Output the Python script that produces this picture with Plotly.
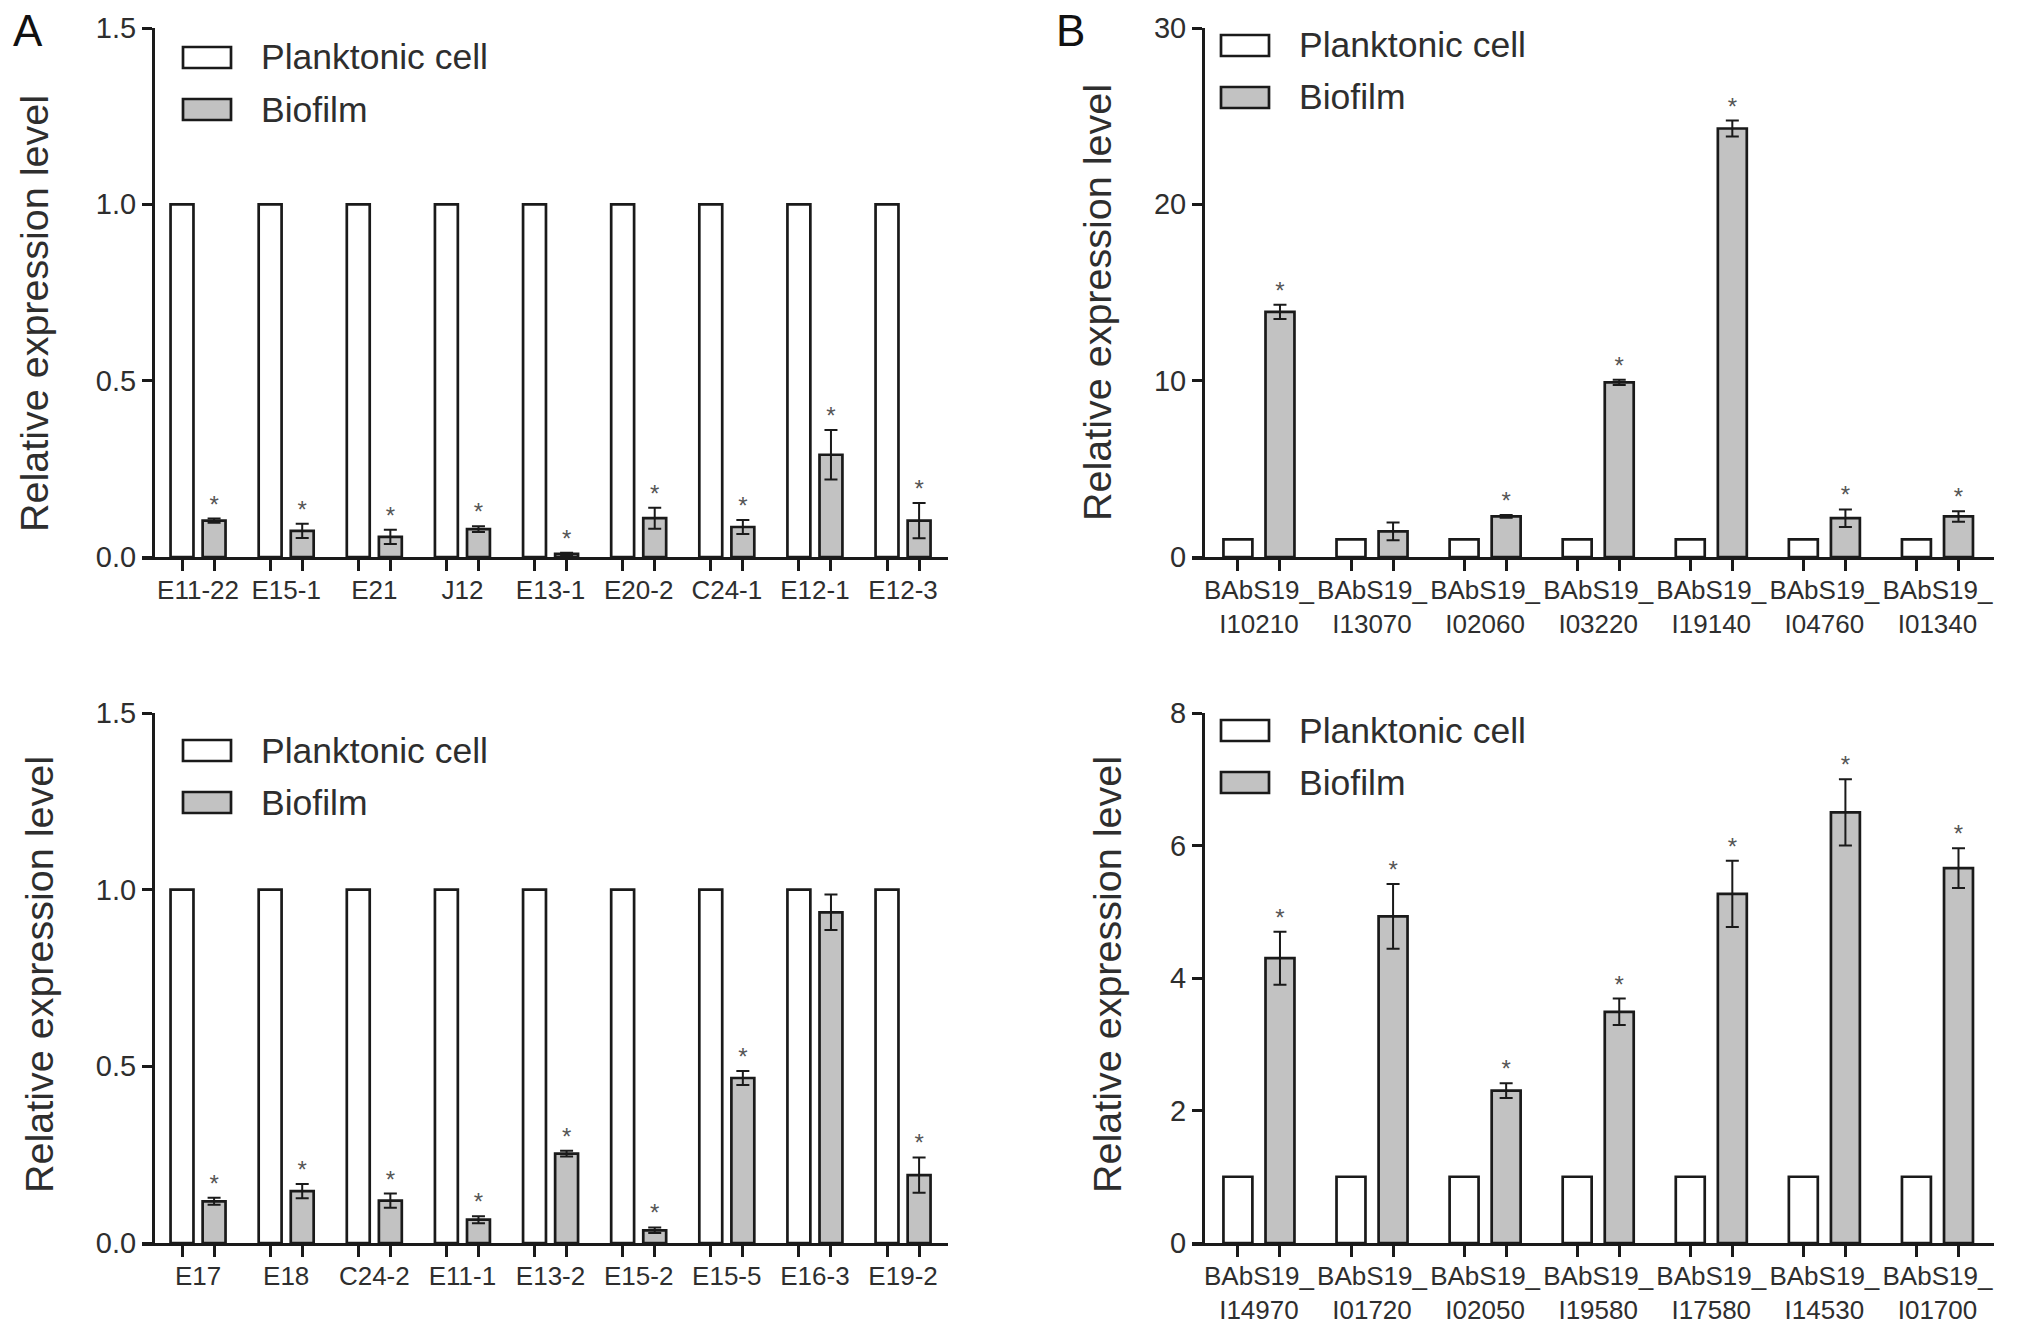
import numpy as np
import plotly.graph_objects as go

W, H = 2031, 1335
INK = "#1a1a1a"
GREY = "#c2c2c2"
TXT = "#2e2e2e"
FONT = "Arial, Liberation Sans, sans-serif"

# A, upper chart
a1_genes = ["E11-22", "E15-1", "E21", "J12", "E13-1", "E20-2", "C24-1", "E12-1", "E12-3"]
a1_planktonic = [1.0, 1.0, 1.0, 1.0, 1.0, 1.0, 1.0, 1.0, 1.0]
a1_biofilm = [0.103, 0.074, 0.057, 0.079, 0.009, 0.110, 0.085, 0.290, 0.103]
a1_err = [0.006, 0.020, 0.020, 0.008, 0.003, 0.030, 0.020, 0.070, 0.050]
a1_star = [1, 1, 1, 1, 1, 1, 1, 1, 1]

# A, lower chart
a2_genes = ["E17", "E18", "C24-2", "E11-1", "E13-2", "E15-2", "E15-5", "E16-3", "E19-2"]
a2_planktonic = [1.0, 1.0, 1.0, 1.0, 1.0, 1.0, 1.0, 1.0, 1.0]
a2_biofilm = [0.118, 0.147, 0.120, 0.066, 0.253, 0.036, 0.467, 0.936, 0.192]
a2_err = [0.010, 0.020, 0.020, 0.010, 0.008, 0.008, 0.020, 0.050, 0.050]
a2_star = [1, 1, 1, 1, 1, 1, 1, 0, 1]

# B, upper chart
b1_genes = ["BAbS19_I10210", "BAbS19_I13070", "BAbS19_I02060", "BAbS19_I03220",
            "BAbS19_I19140", "BAbS19_I04760", "BAbS19_I01340"]
b1_planktonic = [1.0, 1.0, 1.0, 1.0, 1.0, 1.0, 1.0]
b1_biofilm = [13.9, 1.45, 2.3, 9.9, 24.3, 2.2, 2.3]
b1_err = [0.40, 0.50, 0.08, 0.15, 0.45, 0.50, 0.30]
b1_star = [1, 0, 1, 1, 1, 1, 1]

# B, lower chart
b2_genes = ["BAbS19_I14970", "BAbS19_I01720", "BAbS19_I02050", "BAbS19_I19580",
            "BAbS19_I17580", "BAbS19_I14530", "BAbS19_I01700"]
b2_planktonic = [1.0, 1.0, 1.0, 1.0, 1.0, 1.0, 1.0]
b2_biofilm = [4.30, 4.93, 2.30, 3.49, 5.27, 6.50, 5.66]
b2_err = [0.40, 0.49, 0.11, 0.20, 0.50, 0.50, 0.30]
b2_star = [1, 1, 1, 1, 1, 1, 1]

a_yticks = [0, 0.5, 1.0, 1.5]
b1_yticks = [0, 10, 20, 30]
b2_yticks = [0, 2, 4, 6, 8]


def px(x):
    return x / W


def py(y):
    return 1 - y / H


def split_label(g):
    head, tail = g.split("_")
    return head + "_<br>" + tail


# layout of each chart in pixels of the 2031x1335 page
panels = [
    dict(n="", pl=a1_planktonic, bio=a1_biofilm, err=a1_err, star=a1_star, lab=a1_genes,
         yt=a_yticks, fmt=".1f", yax=153, xd=(142, 948), yd=(28, 557), xr=[-0.636, 8.51],
         half=0.182, w=0.26, leg=(183, 47), title=(34, 314)),
    dict(n="2", pl=a2_planktonic, bio=a2_biofilm, err=a2_err, star=a2_star, lab=a2_genes,
         yt=a_yticks, fmt=".1f", yax=153, xd=(142, 948), yd=(713, 1243), xr=[-0.636, 8.51],
         half=0.182, w=0.26, leg=(183, 740), title=(39, 975)),
    dict(n="3", pl=b1_planktonic, bio=b1_biofilm, err=b1_err, star=b1_star,
         lab=[split_label(g) for g in b1_genes],
         yt=b1_yticks, fmt="d", yax=1203, xd=(1192, 1994), yd=(28, 557), xr=[-0.592, 6.5],
         half=0.186, w=0.256, leg=(1221, 35), title=(1097, 303)),
    dict(n="4", pl=b2_planktonic, bio=b2_biofilm, err=b2_err, star=b2_star,
         lab=[split_label(g) for g in b2_genes],
         yt=b2_yticks, fmt="d", yax=1203, xd=(1192, 1994), yd=(713, 1243), xr=[-0.592, 6.5],
         half=0.186, w=0.256, leg=(1221, 720), title=(1107, 975)),
]

fig = go.Figure()
shapes = []
annotations = []

for p in panels:
    xi = np.arange(len(p["lab"]))
    xa, ya = "x" + p["n"], "y" + p["n"]
    fig.add_bar(x=xi, y=p["pl"], width=p["w"], offset=-p["half"] - p["w"] / 2,
                marker=dict(color="white", line=dict(color=INK, width=2.7)),
                name="Planktonic cell", showlegend=False, xaxis=xa, yaxis=ya)
    fig.add_bar(x=xi, y=p["bio"], width=p["w"], offset=p["half"] - p["w"] / 2,
                marker=dict(color=GREY, line=dict(color=INK, width=2.7)),
                error_y=dict(type="data", array=p["err"], color=INK, thickness=2, width=6.5),
                name="Biofilm", showlegend=False, xaxis=xa, yaxis=ya)
    s = np.array(p["star"], bool)
    top = np.array(p["bio"]) + np.array(p["err"])
    fig.add_scatter(x=(xi + p["half"])[s], y=top[s], mode="text", text=["*"] * int(s.sum()),
                    textposition="top center", textfont=dict(size=24, color="#555555", family=FONT),
                    showlegend=False, hoverinfo="skip", xaxis=xa, yaxis=ya)

    fig.update_layout(**{
        "xaxis" + p["n"]: dict(
            domain=[px(p["xd"][0]), px(p["xd"][1])], range=p["xr"], anchor=ya,
            tickmode="array", tickvals=xi, ticktext=p["lab"], ticks="", ticklabelstandoff=8,
            minor=dict(tickmode="array", tickvals=np.concatenate([xi - p["half"], xi + p["half"]]),
                       ticks="outside", ticklen=11, tickwidth=2.5, tickcolor=INK),
            showline=True, linewidth=3, linecolor=INK, showgrid=False, zeroline=False,
            automargin=False, tickfont=dict(size=26, color=TXT, family=FONT), fixedrange=True),
        "yaxis" + p["n"]: dict(
            domain=[py(p["yd"][1]), py(p["yd"][0])], range=[0, p["yt"][-1]],
            anchor="free", position=px(p["yax"]),
            tickmode="array", tickvals=p["yt"], tickformat=p["fmt"], ticks="outside",
            ticklen=10, tickwidth=2.5, tickcolor=INK, showline=True, linewidth=3,
            linecolor=INK, showgrid=False, zeroline=False, automargin=False,
            tickfont=dict(size=29, color=TXT, family=FONT), fixedrange=True),
    })

    # Prism style legend boxes drawn on the page
    lx, ly = p["leg"]
    for k, (label, fill) in enumerate([("Planktonic cell", "white"), ("Biofilm", GREY)]):
        y0 = ly + k * 52
        shapes.append(dict(type="rect", xref="paper", yref="paper",
                           x0=px(lx), x1=px(lx + 48), y0=py(y0 + 21), y1=py(y0),
                           fillcolor=fill, line=dict(color=INK, width=2.7)))
        annotations.append(dict(xref="paper", yref="paper", x=px(lx + 76), y=py(y0 + 10.5),
                                text=label, showarrow=False, xanchor="left", yanchor="middle",
                                font=dict(size=35.5, color=TXT, family=FONT)))

    tx, ty = p["title"]
    annotations.append(dict(xref="paper", yref="paper", x=px(tx), y=py(ty),
                            text="Relative expression level", textangle=-90, showarrow=False,
                            xanchor="center", yanchor="middle",
                            font=dict(size=39.5, color=TXT, family=FONT)))

for letter, (lx, ly) in [("A", (28, 30)), ("B", (1070, 30))]:
    annotations.append(dict(xref="paper", yref="paper", x=px(lx), y=py(ly), text=letter,
                            showarrow=False, xanchor="center", yanchor="middle",
                            font=dict(size=44, color="#111111", family=FONT)))

fig.update_layout(width=W, height=H, margin=dict(l=0, r=0, t=0, b=0),
                  paper_bgcolor="white", plot_bgcolor="white", barmode="overlay",
                  shapes=shapes, annotations=annotations, showlegend=False,
                  font=dict(family=FONT, color=TXT))

# the page body keeps its default 8px margin otherwise
fig.write_html("out.html", config={"displayModeBar": False},
               post_script="document.body.style.margin = '0';")
